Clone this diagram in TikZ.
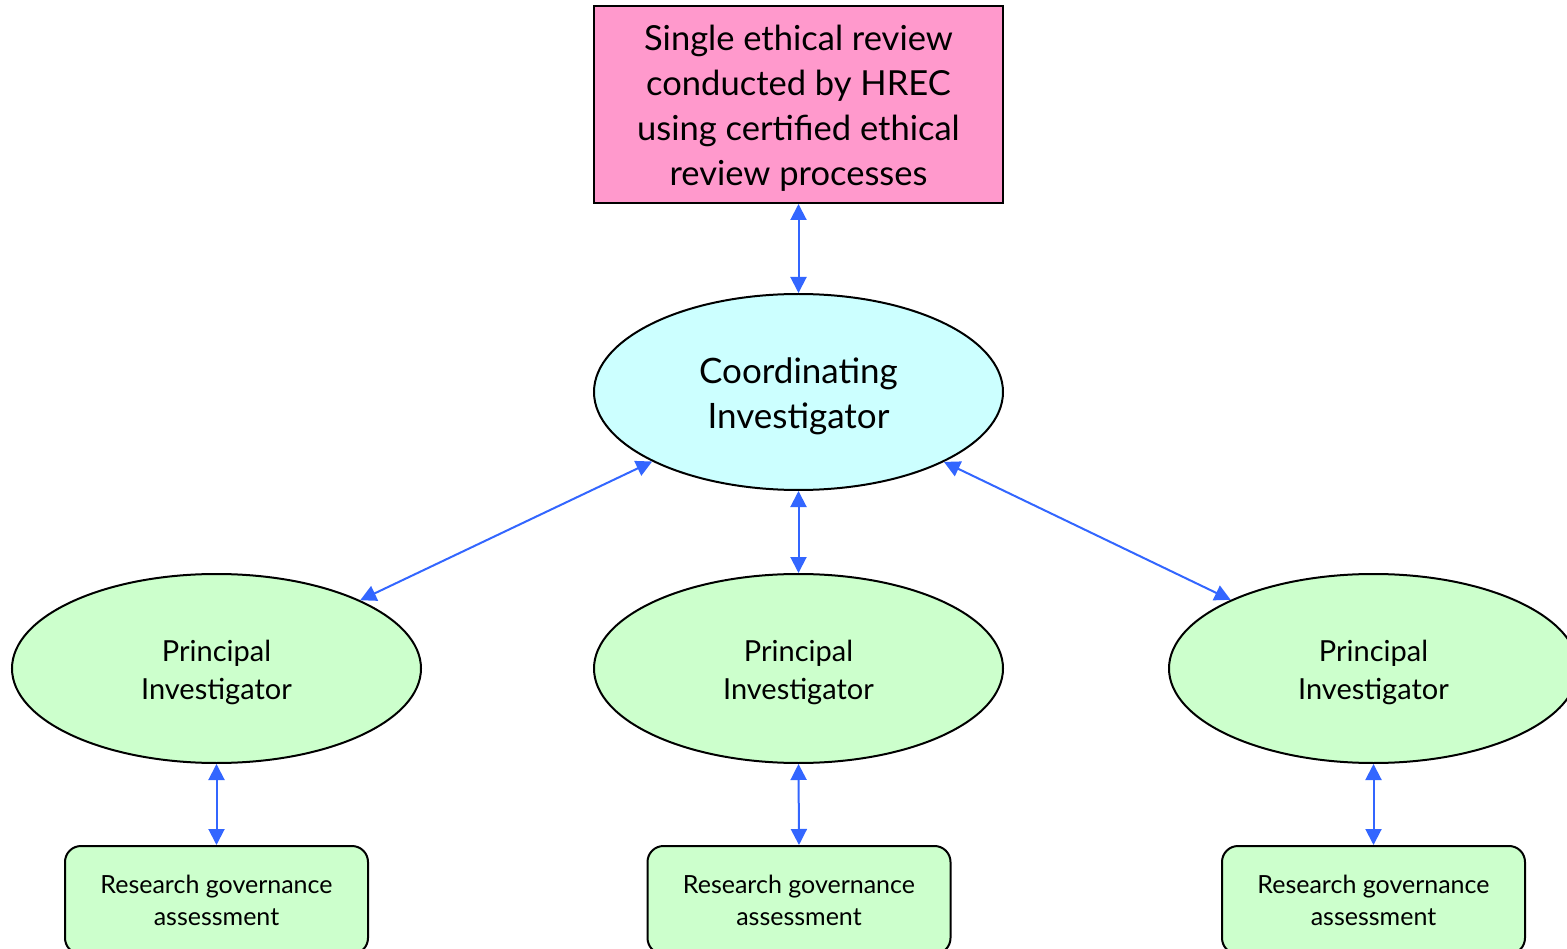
\documentclass[tikz,border=0pt]{standalone}
\usepackage{fontspec}
\setmainfont{Lato}
\usetikzlibrary{shapes.geometric,arrows.meta}
\definecolor{pinkfill}{HTML}{FF99CC}
\definecolor{cyanfill}{HTML}{CCFFFF}
\definecolor{greenfill}{HTML}{CCFFCC}
\definecolor{arrowblue}{HTML}{3366FF}
\tikzset{
  toprect/.style={draw=black, line width=2pt, fill=pinkfill, rectangle, minimum width=409pt, minimum height=197pt, inner sep=0pt},
  coordell/.style={draw=black, line width=2pt, fill=cyanfill, ellipse, minimum width=409pt, minimum height=196pt, inner sep=0pt},
  piell/.style={draw=black, line width=2pt, fill=greenfill, ellipse, minimum width=409pt, minimum height=189pt, inner sep=0pt},
  rgbox/.style={draw=black, line width=2pt, fill=greenfill, rectangle, rounded corners=16pt, minimum width=303pt, minimum height=108pt, inner sep=0pt},
  bigtext/.style={align=center, yshift=-4pt, font=\fontsize{34.5}{45}\selectfont},
  citext/.style={align=center, yshift=-4pt, font=\fontsize{35}{45}\selectfont},
  pitext/.style={align=center, yshift=-4pt, font=\fontsize{29}{38}\selectfont},
  rgtext/.style={align=center, font=\fontsize{25}{32}\selectfont},
  link/.style={draw=arrowblue, line width=2pt, {Triangle[length=16pt,width=16pt]}-{Triangle[length=16pt,width=16pt]}}
}
\begin{document}
\begin{tikzpicture}[x=1pt,y=-1pt]
\useasboundingbox (0,0) rectangle (1567,949);
\begin{scope}
\clip (0,0) rectangle (1567,949);
\node[toprect, label={[bigtext]center:Single ethical review\\conducted by HREC\\using certified ethical\\review processes}] (top) at (798.5,104.5) {};
\node[coordell, label={[citext]center:Coordinating\\Investigator}] (ci) at (798.5,392) {};
\node[piell, label={[pitext]center:Principal\\Investigator}] (pil) at (216.5,668.5) {};
\node[piell, label={[pitext]center:Principal\\Investigator}] (pim) at (798.5,668.5) {};
\node[piell, label={[pitext]center:Principal\\Investigator}] (pir) at (1373.5,668.5) {};
\node[rgbox, rgtext] (rgl) at (216.5,900) {Research governance\\assessment};
\node[rgbox, rgtext] (rgm) at (799,900) {Research governance\\assessment};
\node[rgbox, rgtext] (rgr) at (1373.5,900) {Research governance\\assessment};
\draw[link] (top.south) -- (ci.north);
\draw[link] (ci) -- (pil);
\draw[link] (ci.south) -- (pim.north);
\draw[link] (ci) -- (pir);
\draw[link] (pil.south) -- (rgl.north);
\draw[link] (pim.south) -- (rgm.north);
\draw[link] (pir.south) -- (rgr.north);
\end{scope}
\end{tikzpicture}
\end{document}
